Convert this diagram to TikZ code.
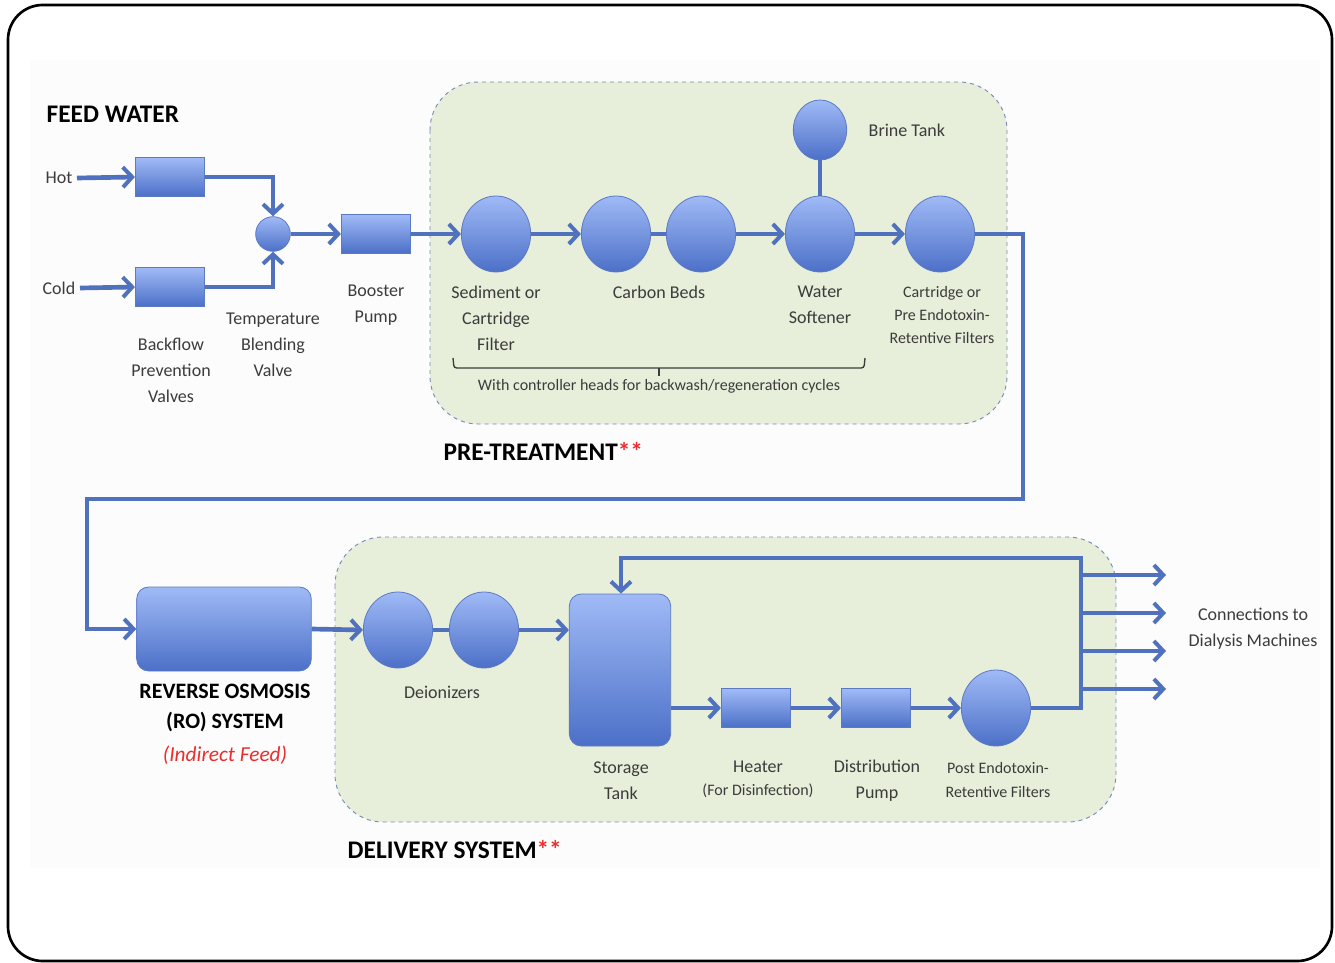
\documentclass[tikz,border=0pt]{standalone}
\usepackage{fontspec}
\setmainfont{Carlito}
\usetikzlibrary{arrows.meta,shapes.geometric}

\definecolor{pipeblue}{RGB}{79,113,190}
\definecolor{unittop}{RGB}{160,186,246}
\definecolor{unitbot}{RGB}{76,112,200}
\definecolor{unitline}{RGB}{92,122,196}
\definecolor{panelgreen}{RGB}{231,238,218}
\definecolor{paneledge}{RGB}{120,140,185}
\definecolor{starred}{RGB}{235,45,45}
\definecolor{textgrey}{RGB}{60,60,60}

\tikzset{
  unitbox/.style={rectangle, draw=unitline, line width=0.6pt,
    top color=unittop, bottom color=unitbot, inner sep=0pt},
  tankbox/.style={unitbox, rounded corners=9pt},
  vessel/.style={ellipse, draw=unitline, line width=0.6pt,
    top color=unittop, bottom color=unitbot, inner sep=0pt,
    minimum width=52pt, minimum height=57pt},
  pipe/.style={pipeblue, line width=3.5pt},
  flow/.style={pipe, -{Straight Barb[length=7pt,width=15pt,line width=3pt]}},
  panel/.style={draw=paneledge, fill=panelgreen, dashed, line width=0.7pt,
    rounded corners=36pt},
  lbl/.style={align=center, text=textgrey, font=\fontsize{13.5}{19.5}\selectfont},
  small/.style={align=center, text=textgrey, font=\fontsize{12}{17.5}\selectfont},
  heading/.style={anchor=west, font=\fontsize{19}{22}\selectfont\bfseries}
}

\begin{document}
\begin{tikzpicture}[x=0.75pt,y=-0.75pt]

    % frame and page
    \useasboundingbox (0,0) rectangle (1335,963);
    \fill[black!1] (30,60) rectangle (1320,868);
    \draw[line width=2pt, rounded corners=26pt] (8,5) rectangle (1332,961);

    % panels
    \draw[panel] (430,82) rectangle (1007,424);
    \draw[panel] (335,537) rectangle (1116,822);

    %-------------
    % Feed water
    \node[heading] (feed) at (42,114) {FEED WATER};
    \node[lbl, anchor=east] (hot) at (77,178) {Hot};
    \node[lbl, anchor=east] (cold) at (80,288) {Cold};

    \node[unitbox, minimum width=52pt, minimum height=29pt] (bfhot) at (170,177) {};
    \node[unitbox, minimum width=52pt, minimum height=29pt] (bfcold) at (170,287) {};
    \node[vessel, minimum width=26pt, minimum height=26pt] (valve) at (273,234) {};
    \node[unitbox, minimum width=52pt, minimum height=29pt] (booster) at (376,234) {};

    \draw[flow] (hot.east) -- (bfhot.west);
    \draw[flow] (cold.east) -- (bfcold.west);
    \draw[flow] (bfhot.east) -| (valve.north);
    \draw[flow] (bfcold.east) -| (valve.south);
    \draw[flow] (valve.east) -- (booster.west);

    \node[lbl] (bflbl) at (171,370) {Backflow\\Prevention\\Valves};
    \node[lbl] (valvelbl) at (273,345) {Temperature\\Blending\\Valve};
    \node[lbl] (boostlbl) at (376,305) {Booster\\Pump};

    %-------------
    % Pre-treatment
    \node[vessel] (sediment) at (496,234) {};
    \node[vessel] (carbonA) at (616,234) {};
    \node[vessel] (carbonB) at (701,234) {};
    \node[vessel] (softener) at (820,234) {};
    \node[vessel] (cartridge) at (940,234) {};
    \node[vessel, minimum width=40pt, minimum height=45pt] (brine) at (820,130) {};

    \draw[flow] (booster.east) -- (sediment.west);
    \draw[flow] (sediment.east) -- (carbonA.west);
    \draw[pipe] (carbonA.east) -- (carbonB.west);
    \draw[flow] (carbonB.east) -- (softener.west);
    \draw[flow] (softener.east) -- (cartridge.west);
    \draw[pipe] (brine.south) -- (softener.north);

    \node[lbl] (sedlbl) at (496,318) {Sediment or\\Cartridge\\Filter};
    \node[lbl] (carblbl) at (659,292) {Carbon Beds};
    \node[lbl] (softlbl) at (820,305) {Water\\Softener};
    \node[small] (cartlbl) at (942,315) {Cartridge or\\Pre Endotoxin-\\Retentive Filters};
    \node[lbl, anchor=west] (brinelbl) at (864,130) {Brine Tank};

    \draw[textgrey, line width=1pt, rounded corners=2pt]
      (453,358) -- (454,368) -- (864,368) -- (865,358);
    \draw[textgrey, line width=1pt] (659,368) -- (659,376);
    \node[small] (ctrllbl) at (659,386) {With controller heads for backwash/regeneration cycles};

    \node[heading] (pretitle) at (439,451) {PRE-TREATMENT\textcolor{starred}{**}};

    %-------------
    % Reverse osmosis
    \node[tankbox, minimum width=131pt, minimum height=63pt] (ro) at (224,629) {};
    \coordinate (turnA) at (1023,499);
    \coordinate (turnB) at (87,499);
    \draw[flow] (cartridge.east) -| (turnA) -- (turnB) |- (ro.west);

    \node[lbl, font=\fontsize{16.5}{22.5}\selectfont\bfseries, text=black] (rolbl) at (225,708)
      {REVERSE OSMOSIS\\(RO) SYSTEM};
    \node[lbl, font=\fontsize{16}{20}\selectfont\itshape, text=starred] (feedlbl) at (225,755) {(Indirect Feed)};

    %-------------
    % Delivery system
    \node[vessel] (deionA) at (398,630) {};
    \node[vessel] (deionB) at (484,630) {};
    \node[tankbox, minimum width=76pt, minimum height=114pt] (tank) at (620,670) {};
    \node[unitbox, minimum width=52pt, minimum height=29pt] (heater) at (756,708) {};
    \node[unitbox, minimum width=52pt, minimum height=29pt] (distpump) at (876,708) {};
    \node[vessel] (postfilter) at (996,708) {};

    \draw[flow] (ro.east) -- (deionA.west);
    \draw[pipe] (deionA.east) -- (deionB.west);
    \draw[flow] (deionB.east) -- (deionB.east -| tank.west);
    \draw[flow] (tank.east |- heater.west) -- (heater.west);
    \draw[flow] (heater.east) -- (distpump.west);
    \draw[flow] (distpump.east) -- (postfilter.west);

    \coordinate (loopA) at (1081,558);
    \coordinate (loopB) at (621,558);
    \draw[flow] (postfilter.east) -| (loopA) -- (loopB) -- (loopB |- tank.north);

    % outlets to dialysis machines
    \foreach \y/\name in {575/outA,613/outB,651/outC,689/outD}{
      \coordinate (\name) at (1166,\y);
      \draw[flow] (1081,\y) -- (\name);
    }

    \node[lbl] (conlbl) at (1253,629) {Connections to\\Dialysis Machines};
    \node[lbl] (deionlbl) at (442,692) {Deionizers};
    \node[lbl] (tanklbl) at (621,781) {Storage\\Tank};
    \node[lbl] (heatlbl) at (758,767) {Heater};
    \node[small] (heatsub) at (758,791) {(For Disinfection)};
    \node[lbl] (distlbl) at (877,781) {Distribution\\Pump};
    \node[small] (postlbl) at (998,780) {Post Endotoxin-\\Retentive Filters};

    \node[heading] (deltitle) at (343,850) {DELIVERY SYSTEM\textcolor{starred}{**}};

\end{tikzpicture}
\end{document}
